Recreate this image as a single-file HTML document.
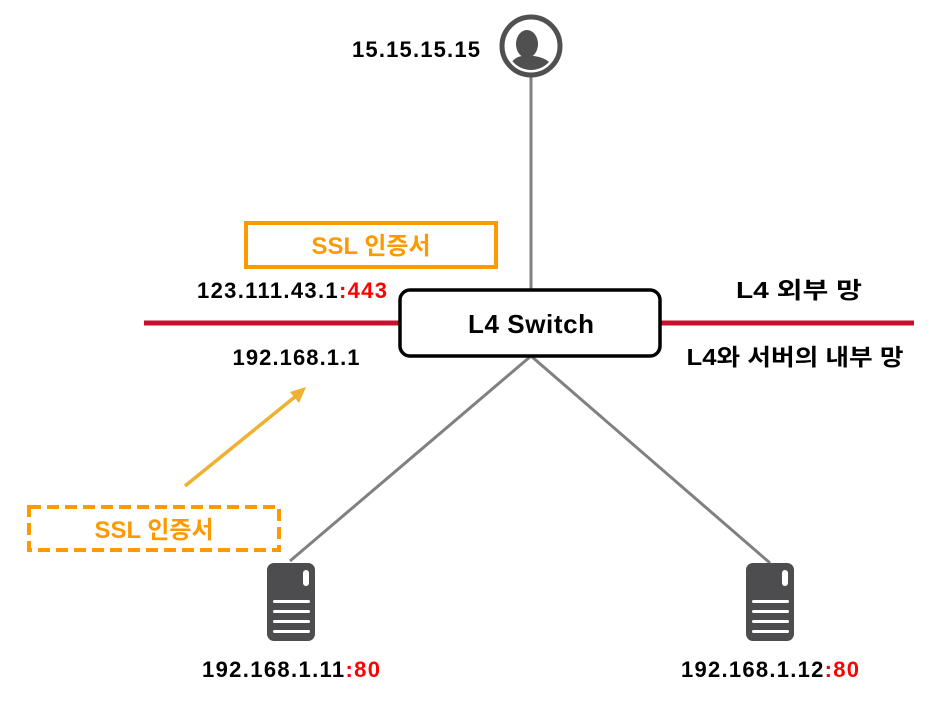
<!DOCTYPE html>
<html><head><meta charset="utf-8"><style>
html,body{margin:0;padding:0;background:#fff;}
svg{display:block;}
text{font-family:"Liberation Sans","Noto Sans CJK KR",sans-serif;font-weight:bold;}
</style></head><body>
<svg width="947" height="711" viewBox="0 0 947 711" xmlns="http://www.w3.org/2000/svg">
<rect width="947" height="711" fill="#fff"/>
<line x1="531" y1="76" x2="531" y2="290" stroke="#808080" stroke-width="3"/>
<line x1="531" y1="356" x2="290" y2="561" stroke="#808080" stroke-width="3"/>
<line x1="531" y1="356" x2="770" y2="563" stroke="#808080" stroke-width="3"/>
<line x1="144" y1="323" x2="400" y2="323" stroke="#c8102e" stroke-width="5"/>
<line x1="660" y1="323" x2="914" y2="323" stroke="#c8102e" stroke-width="5"/>
<rect x="400" y="290" width="260" height="66" rx="10" fill="#fff" stroke="#000" stroke-width="3.5"/>
<text x="531" y="333" font-size="26" text-anchor="middle" fill="#000" textLength="126">L4 Switch</text>
<circle cx="531" cy="46" r="29" fill="#fff" stroke="#505050" stroke-width="5"/>
<clipPath id="pc"><circle cx="531" cy="46" r="24"/></clipPath>
<g clip-path="url(#pc)" fill="#505050">
<ellipse cx="527" cy="44" rx="11" ry="14"/>
<path d="M506 80 Q508 58 522 56 L534 56 Q548 58 552 66 L552 80 Z"/>
</g>
<text x="416" y="57" font-size="22" text-anchor="middle" fill="#000" textLength="128">15.15.15.15</text>
<rect x="246" y="223" width="250" height="44" fill="none" stroke="#ff9900" stroke-width="4"/>
<text x="371" y="254" font-size="24" text-anchor="middle" fill="#ff9900" textLength="119" lengthAdjust="spacingAndGlyphs">SSL 인증서</text>
<text x="292" y="298" font-size="22" text-anchor="middle" fill="#000" textLength="190">123.111.43.1<tspan fill="#ff0000">:443</tspan></text>
<text x="296" y="365" font-size="22" text-anchor="middle" fill="#000" textLength="127">192.168.1.1</text>
<text x="799" y="298" font-size="23" text-anchor="middle" fill="#000" textLength="126" lengthAdjust="spacingAndGlyphs">L4 외부 망</text>
<text x="795" y="365" font-size="23" text-anchor="middle" fill="#000" textLength="217" lengthAdjust="spacingAndGlyphs">L4와 서버의 내부 망</text>
<line x1="185" y1="486" x2="296" y2="396" stroke="#f0b030" stroke-width="3.5"/>
<polygon points="306,387 290,392 299,403" fill="#f0b030"/>
<rect x="29" y="507" width="250" height="43" fill="none" stroke="#ff9900" stroke-width="4" stroke-dasharray="12,6"/>
<text x="154" y="538" font-size="24" text-anchor="middle" fill="#ff9900" textLength="119" lengthAdjust="spacingAndGlyphs">SSL 인증서</text>
<g fill="#4d4d4f">
<rect x="267" y="563" width="48" height="78" rx="7"/>
<rect x="746" y="563" width="48" height="78" rx="7"/>
</g>
<g fill="#fff">
<rect x="303" y="570" width="6" height="16" rx="3"/>
<rect x="273" y="600" width="37" height="3" rx="1.5"/>
<rect x="273" y="610" width="37" height="3" rx="1.5"/>
<rect x="273" y="620" width="37" height="3" rx="1.5"/>
<rect x="273" y="630" width="37" height="3" rx="1.5"/>
<rect x="782" y="570" width="6" height="16" rx="3"/>
<rect x="752" y="600" width="37" height="3" rx="1.5"/>
<rect x="752" y="610" width="37" height="3" rx="1.5"/>
<rect x="752" y="620" width="37" height="3" rx="1.5"/>
<rect x="752" y="630" width="37" height="3" rx="1.5"/>
</g>
<text x="291" y="677" font-size="22" text-anchor="middle" fill="#000" textLength="178">192.168.1.11<tspan fill="#ff0000">:80</tspan></text>
<text x="770" y="677" font-size="22" text-anchor="middle" fill="#000" textLength="178">192.168.1.12<tspan fill="#ff0000">:80</tspan></text>
</svg>
</body></html>
